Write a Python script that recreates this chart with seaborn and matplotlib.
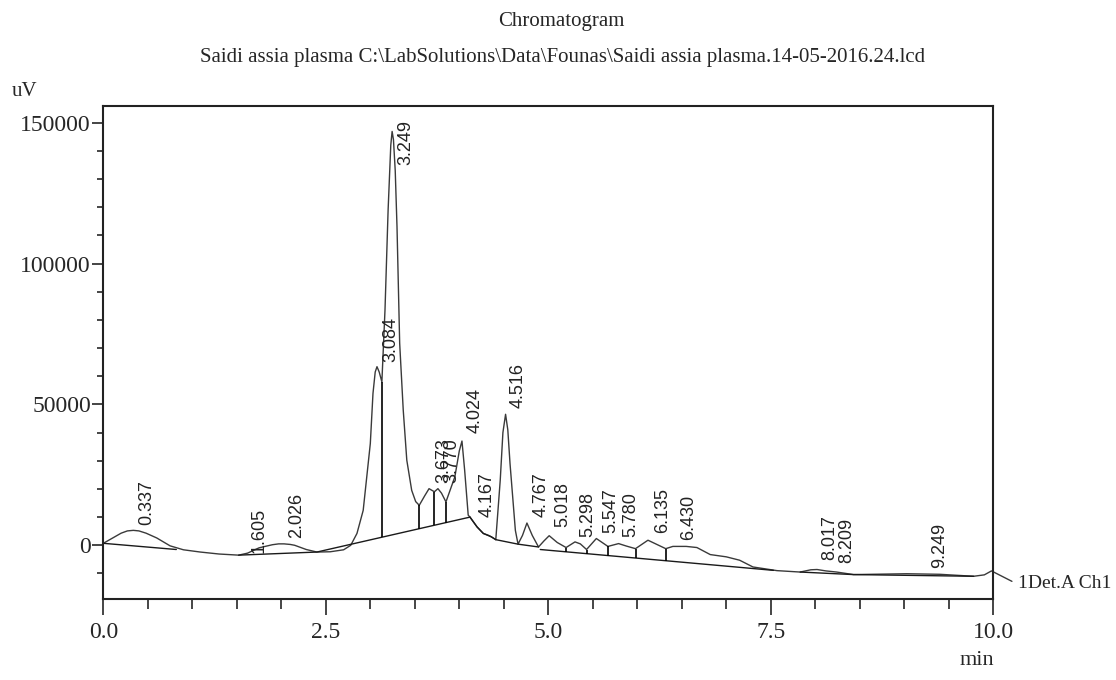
import numpy as np
import pandas as pd
import matplotlib
matplotlib.use("Agg")
import matplotlib.pyplot as plt
from matplotlib.ticker import MultipleLocator
import seaborn as sns

# detector trace (min, uV)
trace_time = [0.00, 0.10, 0.20, 0.27, 0.337, 0.40, 0.48, 0.60, 0.75, 0.90,
              1.09, 1.30, 1.52, 1.62, 1.75, 1.90, 1.97, 2.03, 2.10, 2.15,
              2.28, 2.40, 2.55, 2.70, 2.78, 2.85, 2.92, 3.00, 3.03, 3.055,
              3.075, 3.10, 3.13, 3.165, 3.20, 3.23, 3.245, 3.26, 3.28, 3.30,
              3.33, 3.37, 3.41, 3.465, 3.51, 3.55, 3.61, 3.66, 3.72, 3.76,
              3.80, 3.85, 3.95, 4.00, 4.03, 4.06, 4.10, 4.12, 4.20, 4.27,
              4.33, 4.36, 4.41, 4.46, 4.49, 4.52, 4.545, 4.57, 4.63, 4.66,
              4.71, 4.76, 4.82, 4.89, 4.95, 5.01, 5.10, 5.20, 5.30, 5.36,
              5.43, 5.54, 5.67, 5.79, 5.88, 5.98, 6.12, 6.32, 6.40, 6.55,
              6.67, 6.82, 7.00, 7.15, 7.30, 7.57, 7.83, 7.95, 8.02, 8.12,
              8.24, 8.43, 9.03, 9.40, 9.78, 9.90, 9.98, 10.21]
trace_uv = [700, 2500, 4300, 5100, 5300, 5100, 4300, 2600, -200, -1600,
            -2400, -3100, -3500, -2800, -900, 200, 500, 500, 300, 0,
            -1500, -2400, -2300, -1600, 0, 4200, 12400, 36100, 53900, 61500,
            63400, 61500, 58000, 83500, 119000, 142000, 146900, 144000, 133000, 113000,
            71700, 48000, 30200, 19500, 15500, 14200, 17500, 20100, 19000, 20100,
            18500, 15400, 24300, 33500, 37000, 26700, 10700, 10000, 6500, 4200,
            3500, 3000, 2000, 23100, 40000, 46500, 41000, 29000, 5300, 400,
            3500, 7900, 3500, -600, 1500, 3400, 1000, -800, 1200, 500,
            -1500, 2400, -400, 600, -300, -1200, 1800, -1200, -400, -400,
            -800, -3300, -4100, -5300, -7700, -9000, -9500, -8700, -8600, -9100,
            -9500, -10400, -10100, -10300, -11000, -10500, -9100, -12800]

# integration baselines (each list is one segment)
base_time = [[0.00, 0.82],
             [1.52, 2.40, 4.12],
             [4.12, 4.20, 4.27, 4.36, 4.41],
             [4.41, 4.66, 4.89],
             [4.91, 7.53],
             [7.83, 8.43, 9.78]]
base_uv = [[700, -1500],
           [-3500, -2400, 10000],
           [10000, 6500, 4200, 3000, 2000],
           [2000, 400, -600],
           [-1500, -8900],
           [-9500, -10400, -11000]]

# peak separation drop lines
drop_time = [3.13, 3.55, 3.72, 3.85, 5.20, 5.43, 5.67, 5.98, 6.32]

# retention time labels and the height where each label starts
peak_rt = [0.337, 1.605, 2.026, 3.084, 3.249, 3.673, 3.770, 4.024, 4.167,
           4.516, 4.767, 5.018, 5.298, 5.547, 5.780, 6.135, 6.430,
           8.017, 8.209, 9.249]
label_base = [7100, -2800, 2500, 65000, 135000, 22000, 22000, 39800, 10000,
              48700, 10000, 6400, 2800, 4300, 2800, 4300, 1800,
              -5300, -6400, -8200]

sns.set_style("white")
plt.rcParams['font.family'] = ['Liberation Serif', 'DejaVu Serif']

fig = plt.figure(figsize=(11.16, 6.8), dpi=100)
ax = fig.add_axes([0.0926, 0.1194, 0.7974, 0.7250])

df = pd.DataFrame({"time": trace_time, "uv": trace_uv})
sns.lineplot(data=df, x="time", y="uv", ax=ax, sort=False, estimator=None,
             color="#3a3a3a", linewidth=1.0, clip_on=False)

for bt, bu in zip(base_time, base_uv):
    ax.plot(bt, bu, color="#1a1a1a", linewidth=1.0)

# drop lines go from the trace down to the baseline under it
for t in drop_time:
    top = np.interp(t, trace_time, trace_uv)
    seg = base_time[1] if t < 4.2 else base_time[4]
    segu = base_uv[1] if t < 4.2 else base_uv[4]
    bot = np.interp(t, seg, segu)
    ax.vlines(t, bot, top, color="black", linewidth=1.2)

for rt, yb in zip(peak_rt, label_base):
    ax.text(rt + 0.15, yb, f"{rt:.3f}", rotation=90, ha="center", va="bottom",
            fontsize=13, family=["Liberation Sans", "DejaVu Sans"], color="#222")

ax.set_xlim(0, 10)
ax.set_ylim(-19000, 156000)
ax.xaxis.set_major_locator(MultipleLocator(2.5))
ax.xaxis.set_minor_locator(MultipleLocator(0.5))
ax.yaxis.set_major_locator(MultipleLocator(50000))
ax.yaxis.set_minor_locator(MultipleLocator(10000))
ax.xaxis.set_major_formatter(plt.FuncFormatter(lambda v, p: f"{v:.1f}"))
ax.yaxis.set_major_formatter(plt.FuncFormatter(lambda v, p: f"{v:.0f}"))
ax.tick_params(axis="x", which="major", direction="out", length=11.5, width=1.2,
               pad=5, labelsize=17, bottom=True)
ax.tick_params(axis="x", which="minor", direction="out", length=7, width=1.2,
               bottom=True)
ax.tick_params(axis="y", which="major", direction="out", length=8, width=1.2,
               pad=1, labelsize=17, left=True)
ax.tick_params(axis="y", which="minor", direction="out", length=4.5, width=1.2,
               left=True)
ax.set_xlabel("")
ax.set_ylabel("")
for s in ax.spines.values():
    s.set_visible(True)
    s.set_color("#222")
    s.set_linewidth(1.5)

ax.text(10.28, -13500, "1Det.A Ch1", ha="left", va="center", fontsize=14,
        clip_on=False)
fig.text(0.0224, 0.866, "uV", ha="center", va="center", fontsize=15)
fig.text(0.8755, 0.028, "min", ha="center", va="center", fontsize=16)
fig.text(0.503, 0.968, "Chromatogram", ha="center", va="center", fontsize=15)
fig.text(0.5045, 0.916,
         "Saidi assia plasma C:\\LabSolutions\\Data\\Founas\\Saidi assia plasma.14-05-2016.24.lcd",
         ha="center", va="center", fontsize=15)

fig.savefig("out.png", dpi=100, facecolor="white")
